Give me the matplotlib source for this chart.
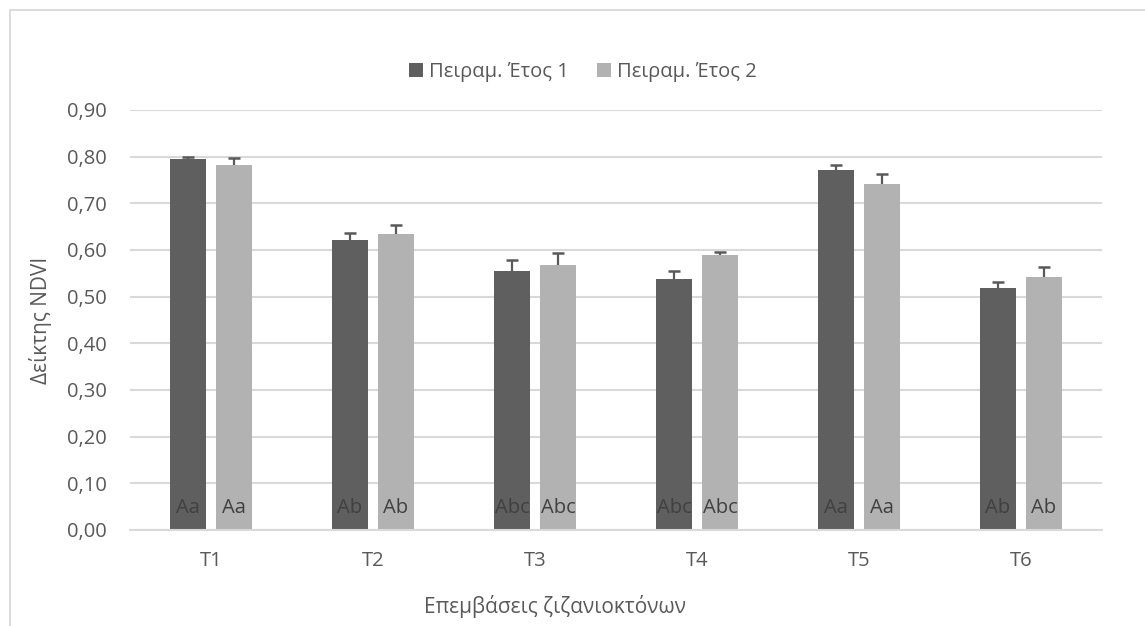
import numpy as np
import matplotlib.pyplot as plt
from matplotlib.patches import Rectangle

# NDVI ανά επέμβαση, δύο πειραματικά έτη
treatments = ["T1", "T2", "T3", "T4", "T5", "T6"]
year1 = [0.794, 0.621, 0.555, 0.537, 0.771, 0.518]
year2 = [0.782, 0.634, 0.567, 0.589, 0.741, 0.542]
err1 = [0.006, 0.016, 0.024, 0.017, 0.011, 0.013]
err2 = [0.015, 0.020, 0.027, 0.006, 0.021, 0.021]
letters1 = ["Aa", "Ab", "Abc", "Abc", "Aa", "Ab"]
letters2 = ["Aa", "Ab", "Abc", "Abc", "Aa", "Ab"]
series_names = ["Πειραμ. Έτος 1", "Πειραμ. Έτος 2"]

plt.rcParams["font.family"] = ["Open Sans", "DejaVu Sans"]

DARK = "#5f5f5f"
LIGHT = "#b2b2b2"
GRID = "#d9d9d9"
TXT = "#595959"
FS = 14.5

W, H = 1145, 626
fig = plt.figure(figsize=(W / 100, H / 100), dpi=100)
ax = fig.add_axes([130 / W, 1 - 530 / H, (1102 - 130) / W, (530 - 110) / H])

# πλαίσιο γραφήματος
fig.add_artist(Rectangle((10 / W, -0.5), 2, (1 - 10 / H) + 0.5, transform=fig.transFigure,
                         fill=False, edgecolor=GRID, linewidth=1.3))

x = np.arange(len(treatments))
bw = 0.228
off = 0.142

ax.bar(x - off, year1, bw, color=DARK, label=series_names[0], zorder=2)
ax.bar(x + off, year2, bw, color=LIGHT, label=series_names[1], zorder=2)

# μόνο θετικές μπάρες σφάλματος (όπως στο Excel)
for xs, ys, es in [(x - off, year1, err1), (x + off, year2, err2)]:
    tops = np.array(ys) + np.array(es)
    ax.vlines(xs, ys, tops, color=TXT, linewidth=1.6, zorder=3)
    ax.plot(xs, tops, ls="none", marker="_", ms=9, mew=1.8, color=TXT, zorder=3)

for i in range(len(x)):
    ax.text(x[i] - off, 0.047, letters1[i], ha="center", va="center",
            fontsize=FS, color="#404040", zorder=4)
    ax.text(x[i] + off, 0.047, letters2[i], ha="center", va="center",
            fontsize=FS, color="#404040", zorder=4)

ax.set_xlim(-0.5, len(x) - 0.5)
ax.set_ylim(0, 0.9)
yt = np.arange(0, 0.91, 0.1)
ax.set_yticks(yt)
ax.set_yticklabels([f"{v:.2f}".replace(".", ",") for v in yt])
ax.set_xticks(x)
ax.set_xticklabels(treatments)
ax.tick_params(axis="both", length=0, labelsize=FS, labelcolor=TXT)
ax.tick_params(axis="x", pad=15)
ax.tick_params(axis="y", pad=17)
ax.yaxis.grid(True, color=GRID, linewidth=1.5, zorder=0)
ax.set_axisbelow(True)
for s in ["top", "right", "left"]:
    ax.spines[s].set_visible(False)
ax.spines["bottom"].set_color(GRID)
ax.spines["bottom"].set_linewidth(1.5)

fig.text(40 / W, 1 - 320 / H, "Δείκτης NDVI", rotation=90, ha="center",
         va="center", fontsize=FS + 0.5, color=TXT)
fig.text(555 / W, 1 - 606 / H, "Επεμβάσεις ζιζανιοκτόνων", ha="center",
         va="center", fontsize=FS + 0.5, color=TXT)

fig.legend(loc="center", bbox_to_anchor=(583 / W, 1 - 72 / H), ncol=2,
           frameon=False, fontsize=FS, labelcolor=TXT, handlelength=0.7,
           handleheight=0.7, handletextpad=0.3, columnspacing=1.4)

fig.savefig("out.png", dpi=100)
